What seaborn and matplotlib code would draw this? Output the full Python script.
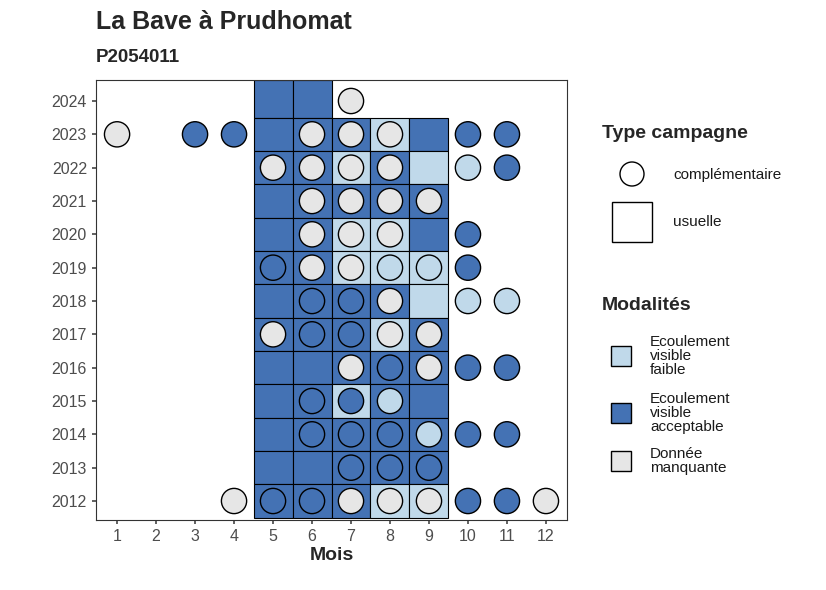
import matplotlib.pyplot as plt
import matplotlib.patches as mpatches
import seaborn as sns
import pandas as pd

sns.set_theme(style="white")
plt.rcParams['font.family'] = ['Liberation Sans', 'DejaVu Sans']

colors = {'faible': '#c0d9ea', 'acceptable': '#4472b4', 'manquante': '#e6e6e6'}
code = {'B': 'acceptable', 'L': 'faible', 'g': 'manquante'}

years = list(range(2012, 2025))
# usual campaigns (tiles), months 5..9
tile_rows = {
    2024: 'BB', 2023: 'BBBLB', 2022: 'BBLBL', 2021: 'BBBBB', 2020: 'BBLLB',
    2019: 'BBLLL', 2018: 'BBBBL', 2017: 'BBBLB', 2016: 'BBBBB', 2015: 'BBLBB',
    2014: 'BBBBB', 2013: 'BBBBB', 2012: 'BBBLL',
}
# complementary campaigns (points): month -> code
point_rows = {
    2024: {7: 'g'},
    2023: {1: 'g', 3: 'B', 4: 'B', 6: 'g', 7: 'g', 8: 'g', 10: 'B', 11: 'B'},
    2022: {5: 'g', 6: 'g', 7: 'g', 8: 'g', 10: 'L', 11: 'B'},
    2021: {6: 'g', 7: 'g', 8: 'g', 9: 'g'},
    2020: {6: 'g', 7: 'g', 8: 'g', 10: 'B'},
    2019: {5: 'B', 6: 'g', 7: 'g', 8: 'L', 9: 'L', 10: 'B'},
    2018: {6: 'B', 7: 'B', 8: 'g', 10: 'L', 11: 'L'},
    2017: {5: 'g', 6: 'B', 7: 'B', 8: 'g', 9: 'g'},
    2016: {7: 'g', 8: 'B', 9: 'g', 10: 'B', 11: 'B'},
    2015: {6: 'B', 7: 'B', 8: 'L'},
    2014: {6: 'B', 7: 'B', 8: 'B', 9: 'L', 10: 'B', 11: 'B'},
    2013: {7: 'B', 8: 'B', 9: 'B'},
    2012: {4: 'g', 5: 'B', 6: 'B', 7: 'g', 8: 'g', 9: 'g', 10: 'B', 11: 'B', 12: 'g'},
}

tiles = pd.DataFrame([(y, 5 + i, code[c]) for y, s in tile_rows.items() for i, c in enumerate(s)],
                     columns=['annee', 'mois', 'modalite'])
points = pd.DataFrame([(y, m, code[c]) for y, d in point_rows.items() for m, c in d.items()],
                      columns=['annee', 'mois', 'modalite'])

fig = plt.figure(figsize=(8.26, 5.9), dpi=100)
ax = fig.add_axes([96 / 826, 1 - 520 / 590, (567 - 96) / 826, 440 / 590])
ymin, ymax = 2011.43, 2024.63
for _, r in tiles.iterrows():
    top = ymax if r.annee == 2024 else r.annee + 0.5
    ax.bar(r.mois, top - (r.annee - 0.5), bottom=r.annee - 0.5, width=1,
           color=colors[r.modalite], edgecolor='black', linewidth=0.8)
sns.scatterplot(data=points, x='mois', y='annee', hue='modalite', palette=colors,
                s=330, edgecolor='black', linewidth=1, legend=False, ax=ax, zorder=3)

ax.set_xlim(0.46, 12.54)
ax.set_ylim(ymin, ymax)
ax.set_xticks(range(1, 13))
ax.set_yticks(years)
ax.tick_params(axis='both', labelsize=11.5, colors='#4d4d4d', length=3, left=True, bottom=True)
for s in ax.spines.values():
    s.set_color('#333333')
    s.set_linewidth(0.8)
ax.set_xlabel('Mois', fontsize=14, fontweight='bold', labelpad=2)
ax.set_ylabel('')

fig.text(96 / 826, 1 - 22 / 590, 'La Bave à Prudhomat', fontsize=18, fontweight='bold', va='center')
fig.text(96 / 826, 1 - 58 / 590, 'P2054011', fontsize=13.5, fontweight='bold', va='center')

def fy(py):
    return 1 - py / 590

def fx(px):
    return px / 826

fig.text(fx(602), fy(134), 'Type campagne', fontsize=14, fontweight='bold', va='center')
fig.patches.append(mpatches.Ellipse((fx(632), fy(174)), 24 / 826, 24 / 590, transform=fig.transFigure,
                                    facecolor='white', edgecolor='black', lw=1))
fig.text(fx(673), fy(175), 'complémentaire', fontsize=11, va='center', color='#1a1a1a')
fig.patches.append(mpatches.Rectangle((fx(612), fy(242)), 40 / 826, 40 / 590, transform=fig.transFigure,
                                      facecolor='white', edgecolor='black', lw=1))
fig.text(fx(673), fy(222), 'usuelle', fontsize=11, va='center', color='#1a1a1a')

fig.text(fx(602), fy(306), 'Modalités', fontsize=14, fontweight='bold', va='center')
mod_labels = [('faible', 'Ecoulement\nvisible\nfaible', 356),
              ('acceptable', 'Ecoulement\nvisible\nacceptable', 413),
              ('manquante', 'Donnée\nmanquante', 461)]
for key, lab, cy in mod_labels:
    fig.patches.append(mpatches.Rectangle((fx(611), fy(cy + 10)), 20 / 826, 20 / 590, transform=fig.transFigure,
                                          facecolor=colors[key], edgecolor='black', lw=1))
    fig.text(fx(650), fy(cy), lab, fontsize=11, va='center', color='#1a1a1a', linespacing=1.0)

fig.savefig('out.png', dpi=100)
